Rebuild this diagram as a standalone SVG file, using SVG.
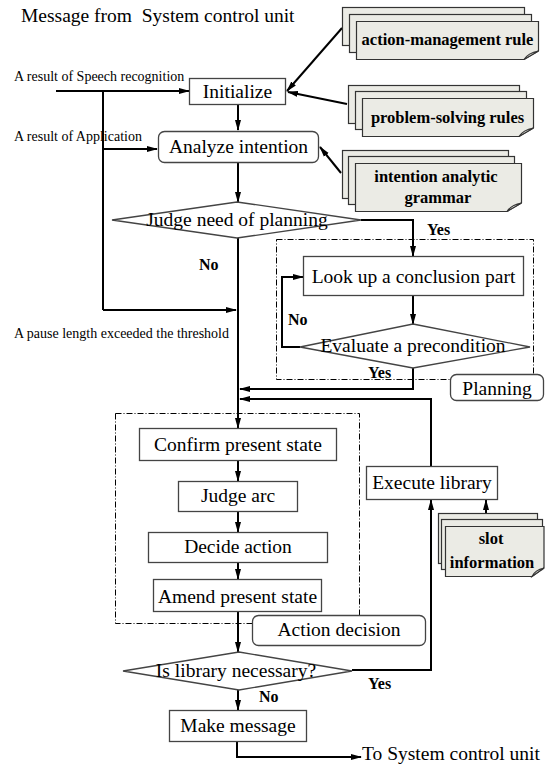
<svg xmlns="http://www.w3.org/2000/svg" width="545" height="765" viewBox="0 0 545 765">
<defs>
<marker id="ah" markerWidth="11" markerHeight="7" refX="10" refY="3.5" orient="auto" markerUnits="userSpaceOnUse">
<path d="M0,0.5 L11,3.5 L0,6.5 Z" fill="#000"/>
</marker>
<style>
.t{font-family:"Liberation Serif","Times New Roman",serif;fill:#000}
.lbl{font-size:19.5px;text-anchor:middle}
.sm{font-size:14px}
.yn{font-size:16px;font-weight:bold}
.doc{font-size:16.5px;font-weight:bold;text-anchor:middle}
.box{fill:#fff;stroke:#444;stroke-width:1.3}
.page{fill:#ebebe5;stroke:#333;stroke-width:1.2}
.dash{fill:none;stroke:#000;stroke-width:1;stroke-dasharray:6 2 1 2}
.con{fill:none;stroke:#000;stroke-width:2}
.arr{fill:none;stroke:#000;stroke-width:2;marker-end:url(#ah)}
</style>
</defs>
<rect width="545" height="765" fill="#fff"/>

<text class="t" x="21" y="22" style="font-size:19.5px;white-space:pre" xml:space="preserve">Message from  System control unit</text>

<g id="labels">
<text class="t sm" x="14" y="81">A result of Speech recognition</text>
<text class="t sm" x="14" y="141">A result of Application</text>
<text class="t sm" x="14" y="338">A pause length exceeded the threshold</text>
<text class="t yn" x="427" y="235">Yes</text>
<text class="t yn" x="199" y="270">No</text>
<text class="t yn" x="288" y="325">No</text>
<text class="t yn" x="368" y="378">Yes</text>
<text class="t yn" x="368" y="689">Yes</text>
<text class="t yn" x="259" y="702">No</text>
</g>

<g id="planning-area">
<rect class="dash" x="276.5" y="239.5" width="257" height="140"/>
</g>
<g id="action-area">
<rect class="dash" x="115.5" y="413.5" width="244" height="210"/>
</g>

<g id="connectors">
<line class="con" x1="56" y1="91" x2="103" y2="91"/>
<line class="arr" x1="103" y1="91" x2="189" y2="91"/>
<line class="con" x1="103" y1="91" x2="103" y2="310"/>
<line class="arr" x1="103" y1="149" x2="157" y2="149"/>
<line class="arr" x1="103" y1="310" x2="236" y2="310"/>
<line class="arr" x1="342" y1="28" x2="287" y2="91"/>
<line class="arr" x1="347" y1="104" x2="288" y2="92"/>
<line class="arr" x1="341" y1="173" x2="320" y2="147"/>
<line class="arr" x1="238" y1="104" x2="238" y2="130"/>
<line class="arr" x1="238" y1="162" x2="238" y2="202"/>
<polyline class="arr" points="361,220 413,220 413,256"/>
<line class="arr" x1="413" y1="296" x2="413" y2="324"/>
<polyline class="arr" points="300,347 282,347 282,277 303,277"/>
<polyline class="arr" points="413,368 413,389 240,389"/>
<polyline class="arr" points="431,466 431,399 240,399"/>
<line class="arr" x1="238" y1="238" x2="238" y2="428"/>
<line class="arr" x1="238" y1="460" x2="238" y2="481"/>
<line class="arr" x1="238" y1="511" x2="238" y2="532"/>
<line class="arr" x1="238" y1="562" x2="238" y2="579"/>
<line class="arr" x1="238" y1="612" x2="238" y2="652"/>
<polyline class="arr" points="352,670 431,670 431,500"/>
<line class="arr" x1="486" y1="513" x2="486" y2="500"/>
<line class="arr" x1="238" y1="690" x2="238" y2="710"/>
<polyline class="arr" points="237,741 237,757 361,757"/>
</g>

<g id="n-initialize">
<rect class="box" x="189.5" y="78.5" width="96" height="26"/>
<text class="t lbl" x="237.5" y="98">Initialize</text>
</g>
<g id="n-analyze">
<rect class="box" x="158.5" y="131.5" width="160" height="31" rx="6"/>
<text class="t lbl" x="238.5" y="153">Analyze intention</text>
</g>
<g id="n-judge-planning">
<polygon class="box" points="237,202 361,220 237,238 112,220"/>
<text class="t lbl" x="237" y="226">Judge need of planning</text>
</g>
<g id="n-lookup">
<rect class="box" x="303.5" y="256.5" width="220" height="39"/>
<text class="t lbl" x="413.5" y="283">Look up a conclusion part</text>
</g>
<g id="n-evaluate">
<polygon class="box" points="413,324 530,347 413,368 300,347"/>
<text class="t lbl" x="413" y="352">Evaluate a precondition</text>
</g>
<g id="n-planning-label">
<rect class="box" x="450.5" y="374.5" width="93" height="26" rx="6"/>
<text class="t lbl" x="497" y="395">Planning</text>
</g>
<g id="n-confirm">
<rect class="box" x="139.5" y="428.5" width="197" height="32"/>
<text class="t lbl" x="238" y="451">Confirm present state</text>
</g>
<g id="n-judge-arc">
<rect class="box" x="178.5" y="481.5" width="119" height="30"/>
<text class="t lbl" x="238" y="502">Judge arc</text>
</g>
<g id="n-decide">
<rect class="box" x="148.5" y="532.5" width="179" height="30"/>
<text class="t lbl" x="238" y="553">Decide action</text>
</g>
<g id="n-amend">
<rect class="box" x="153.5" y="579.5" width="168" height="32"/>
<text class="t lbl" x="237.5" y="603">Amend present state</text>
</g>
<g id="n-action-label">
<rect class="box" x="252.5" y="615.5" width="173" height="30" rx="6"/>
<text class="t lbl" x="339" y="636">Action decision</text>
</g>
<g id="n-execute">
<rect class="box" x="366.5" y="466.5" width="131" height="33"/>
<text class="t lbl" x="432" y="489">Execute library</text>
</g>
<g id="n-is-library">
<polygon class="box" points="239,652 352,671 239,690 123,671"/>
<text class="t lbl" x="236" y="677">Is library necessary?</text>
</g>
<g id="n-make-message">
<rect class="box" x="169.5" y="710.5" width="137" height="31"/>
<text class="t lbl" x="238" y="732">Make message</text>
</g>
<text class="t" x="362" y="760" style="font-size:19.5px">To System control unit</text>

<g id="d-action-management">
<rect class="page" x="342.5" y="7.5" width="182" height="38"/>
<rect class="page" x="349.5" y="14.5" width="182" height="38"/>
<path class="page" d="M356.5,21.5 H538.5 V51 L524,59.5 H356.5 Z"/>
<path class="page" d="M524,59.5 Q528,53 538.5,51 Q530,56 524,59.5 Z"/>
<text class="t doc" x="447.5" y="45">action-management rule</text>
</g>
<g id="d-problem-solving">
<rect class="page" x="348.5" y="85.5" width="171" height="38"/>
<rect class="page" x="355.5" y="91.5" width="171" height="38"/>
<path class="page" d="M362.5,98.5 H533.5 V128 L519,136.5 H362.5 Z"/>
<path class="page" d="M519,136.5 Q523,130 533.5,128 Q525,133 519,136.5 Z"/>
<text class="t doc" x="447.5" y="123">problem-solving rules</text>
</g>
<g id="d-intention-grammar">
<rect class="page" x="342.5" y="150.5" width="166" height="48"/>
<rect class="page" x="348.5" y="156.5" width="166" height="48"/>
<path class="page" d="M355.5,163.5 H521.5 V203 L507,211.5 H355.5 Z"/>
<path class="page" d="M507,211.5 Q511,205 521.5,203 Q513,208 507,211.5 Z"/>
<text class="t doc" x="436" y="182">intention analytic</text>
<text class="t doc" x="438" y="203">grammar</text>
</g>
<g id="d-slot-information">
<rect class="page" x="438.5" y="513.5" width="99" height="50"/>
<rect class="page" x="441.5" y="519.5" width="101" height="50"/>
<path class="page" d="M445.5,526.5 H544 V568 L532,576.5 H445.5 Z"/>
<path class="page" d="M532,576.5 Q535,570 544,568 Q537,573 532,576.5 Z"/>
<text class="t doc" x="491" y="544">slot</text>
<text class="t doc" x="492" y="568">information</text>
</g>
</svg>
